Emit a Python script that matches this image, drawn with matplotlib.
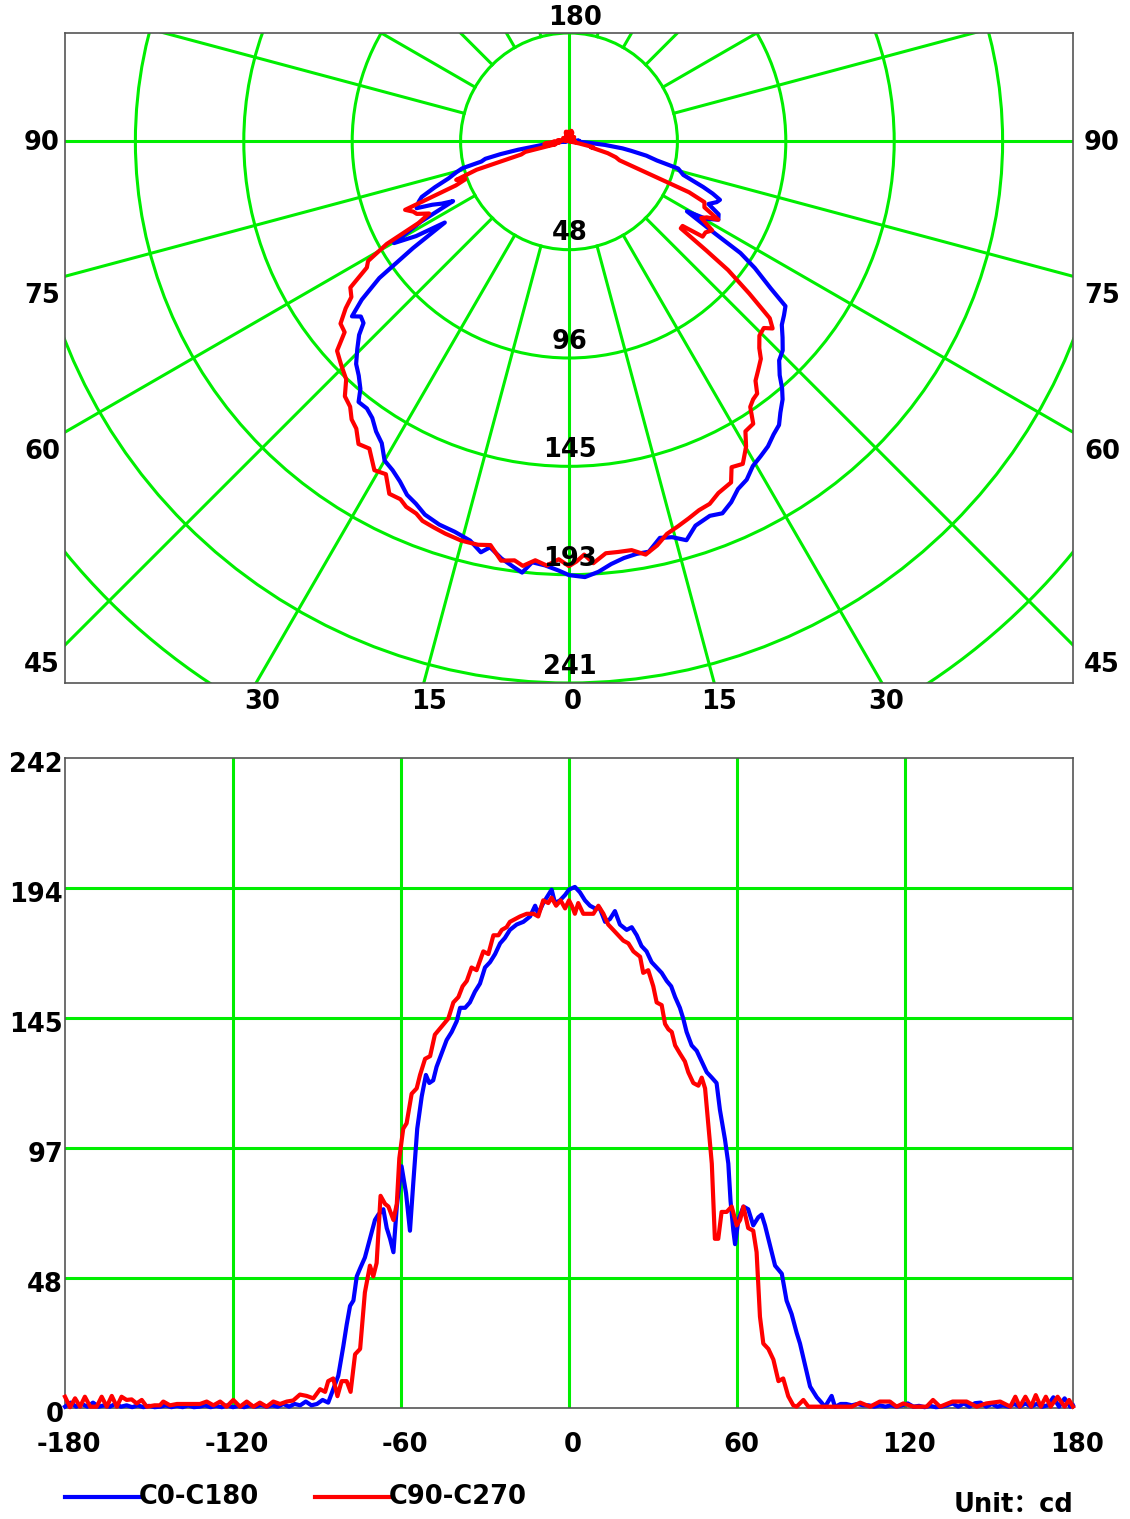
import numpy as np
import matplotlib
matplotlib.use('Agg')
import matplotlib.pyplot as plt
from matplotlib.patches import Circle

# --- Datos: intensidad (cd) frente a angulo gamma (grados) ---
c0_angles = [-180, -178, -176, -174, -172, -170, -168, -166, -164, -162, -160, -158, -156, -154, -152,
             -150, -148, -146, -144, -142, -140, -138, -136, -134, -132, -130, -128, -126, -124, -122,
             -120, -118, -116, -114, -112, -110, -108, -106, -104, -102, -100, -98, -96, -94, -92,
             -90, -88, -86, -84.2, -82.4, -80.6, -79.4, -78.2, -77, -75.8, -74.6, -72.9, -71.1, -69.3,
             -68.1, -66.3, -65.1, -63.9, -62.7, -61.5, -59.8, -58.2, -56.8, -55.6, -54.2, -52.6, -51.1,
             -49.9, -48.5, -47.3, -45.5, -43.7, -41.9, -40.1, -38.9, -37.1, -35.4, -33.6, -31.8, -30,
             -28.2, -26.4, -24.6, -22.9, -21.1, -18.7, -16.3, -13.9, -12.1, -11, -9.2, -7.4, -6.2, -5,
             -3.2, -1.4, 0, 2.1, 3.9, 5.7, 7.5, 9.3, 11, 12.9, 14.6, 16.4, 18.2, 20.6, 22.4, 24.2, 25.9,
             27.7, 29.5, 31.3, 33.1, 34.9, 36.5, 37.9, 39.6, 40.8, 42, 43.8, 45.6, 47.4, 49.2, 51, 52.7,
             53.9, 55.7, 56.9, 57.7, 58.7, 59.3, 60.5, 62.3, 64, 65.8, 67.6, 68.8, 70, 71.2, 73.6, 76,
             77.7, 79.5, 81.3, 82.5, 84.3, 86.1, 88.5, 90.2, 91.4, 93.8, 95, 97, 99, 101, 103, 105, 107,
             109, 111, 113, 115, 117, 119, 121, 123, 125, 127, 129, 131, 133, 135, 137, 139, 141, 143,
             145, 147, 149, 151, 153, 155, 157, 159, 161, 163, 165, 167, 169, 171, 173, 175, 177, 179, 180]
c0_cd = [0.5, 2.0, 0.5, 1.5, 0.5, 2.0, 0.5, 1.0, 0.5, 1.5, 0.5, 1.0, 0.3, 1.0, 0.3,
         0.8, 0.3, 0.5, 1.0, 0.3, 0.8, 0.3, 1.0, 0.3, 0.5, 1.0, 0.3, 0.8, 0.3, 1.0,
         0.3, 0.8, 0.3, 1.0, 0.5, 1.2, 0.5, 1.0, 0.5, 1.5, 0.5, 1.5, 1.0, 2.4, 1.0,
         1.5, 3.0, 2.0, 7, 12, 23, 31, 38, 40, 49, 52, 56, 63, 70,
         72, 74, 67, 63, 58, 75, 90, 80, 66, 84, 104, 116, 124,
         121, 122, 127, 132, 137, 140, 144, 149, 149, 151, 155, 158, 164,
         166, 169, 173, 175, 178, 180, 181, 183, 187, 184, 188, 191, 193, 188,
         189, 191, 193, 194, 192, 189, 187, 186, 186, 181, 182, 185, 180, 178, 179, 176, 172,
         170, 166, 164, 162, 159, 157, 153, 149, 145, 140, 135, 133, 129, 125, 123, 121,
         111, 100, 91, 77, 66, 61, 70, 75, 74, 68, 71, 72, 68, 63, 53, 50,
         40, 35, 28, 24, 16, 8, 4, 2, 0.4, 4.5, 0.4, 1.5, 1.5, 1.0, 1.5, 1.0, 1.0,
         0.5, 1.0, 0.5, 1.0, 0.5, 1.0, 1.7, 0.5, 0.8, 0.3, 0.8, 0.3, 0.5, 1.0, 1.7, 0.5, 1.7, 0.5,
         1.8, 2.0, 0.5, 1.5, 0.5, 1.0, 0.5, 1.5, 0.5, 1.7, 0.5, 1.5, 0.5, 1.0, 4.0, 0.5, 3.6, 0.5, 1.0]

c90_angles = [-180, -178.2, -176.4, -174.6, -172.9, -171, -168.7, -166.9, -165.1, -163.3, -161.5,
              -159.8, -158, -156.2, -154.4, -152.6, -150.8, -148, -146.1, -144.9, -142.5, -140, -137,
              -134, -131.8, -129.4, -127, -124.6, -122.3, -119.9, -117.5, -115.1, -112.7, -110.4, -108,
              -105.6, -103.2, -100.8, -98.5, -96.1, -93.7, -91.3, -88.9, -87.1, -86, -84.2, -82.7,
              -81.2, -79.4, -78, -76.4, -74.6, -72.9, -71.1, -69.9, -68.7, -67.3, -65.7, -64.5, -62.7,
              -61.5, -60.6, -59.2, -58, -56.2, -54.4, -53.2, -51.4, -49.6, -47.9, -45.5, -43.1, -41.3,
              -39.5, -38, -36.5, -34.8, -33, -30.6, -28.8, -27, -25.2, -24, -22.3, -21.1, -19.3, -17.5,
              -15.1, -12.7, -11, -9.2, -7.4, -6.2, -4.6, -3, -1.4, 0, 1, 2.1, 3.3, 5.1, 6.8, 8.7, 10.5,
              12.3, 14, 15.8, 17.6, 19.4, 21.2, 23, 25.4, 26.5, 28.3, 30.1, 31.3, 33.1, 34.3, 35.5, 36.7,
              37.9, 39.6, 41.4, 42.6, 44.4, 46.2, 47.4, 48.6, 49.8, 51, 51.5, 52.1, 53.3, 54.5, 56.3,
              58.1, 59.9, 61.1, 62.3, 64, 65.8, 67, 68.2, 69.4, 71.2, 73, 74.8, 76.5, 78.3, 80.1, 81.3,
              83.7, 85.5, 88, 90, 92, 95, 98, 101, 104, 107.5, 111, 114.6, 117, 119.4, 123, 127.7, 130,
              132.5, 137, 142, 145.6, 149, 154, 157.6, 159.4, 161, 163, 165, 166.7, 168.5, 170.3, 172,
              174.5, 177, 178.6, 180]
c90_cd = [4.2, 0.3, 3.6, 0.5, 4.2, 0.5, 0.5, 4.2, 0.5, 4.5, 0.5,
          4.2, 3.0, 3.2, 1.7, 3.0, 0.5, 1.0, 1.0, 2.4, 1.0, 1.5, 1.5,
          1.5, 1.5, 2.4, 1.0, 2.4, 0.5, 3.0, 0.5, 2.4, 0.5, 2.0, 0.5,
          2.4, 1.5, 2.4, 2.8, 5.0, 4.5, 3.6, 7, 6, 10, 11, 4.4,
          10, 10, 6, 20, 22, 43, 53, 49, 54, 79, 76, 75, 70,
          76, 93, 104, 106, 117, 119, 124, 130, 131, 139, 142, 145, 151,
          153, 157, 159, 164, 163, 170, 169, 176, 176, 178, 179, 181, 182, 183,
          184, 184, 183, 189, 188, 190, 187, 189, 186, 189, 187, 184, 188, 184, 184, 184, 187,
          184, 180, 178, 176, 174, 173, 170, 168, 162, 163, 157, 151, 150, 143, 141, 140,
          135, 132, 129, 125, 121, 120, 123, 119, 105, 91, 78, 63, 63, 73, 73,
          75, 68, 70, 75, 67, 66, 58, 34, 24, 22, 18, 10, 11, 4.4, 1.0, 0.5,
          3.0, 0.5, 0.5, 0.5, 0.5, 0.5, 0.5, 0.5, 2.0, 0.5, 2.4, 2.4, 0.5, 1.7, 0.5, 0.5, 3.0,
          0.5, 2.4, 2.4, 0.5, 1.7, 2.4, 0.5, 4.2, 0.5, 4.2, 0.5, 4.8, 0.5, 4.2, 0.5,
          4.2, 0.5, 3.0, 0.5]

series_names = ['C0-C180', 'C90-C270']
series_colors = ['#0000ff', '#ff0000']

# escalas
polar_rings = [48, 96, 145, 193, 241]
ring_step = 48.2
cart_yticks = [0, 48, 97, 145, 194, 242]
cart_xticks = [-180, -120, -60, 0, 60, 120, 180]
side_labels = [90, 75, 60, 45]
bottom_labels = [30, 15, 0, 15, 30]

GREEN = '#00ee00'
FRAME = '#555555'
FS = 18.5
plt.rcParams['font.family'] = ['DejaVu Sans', 'Noto Sans CJK SC']

W, H = 1130, 1519
fig = plt.figure(figsize=(W / 100, H / 100), dpi=100)


def box(x0, y0, x1, y1):
    return [x0 / W, 1 - y1 / H, (x1 - x0) / W, (y1 - y0) / H]


def ptext(x, y, s, **kw):
    fig.text(x / W, 1 - y / H, s, fontsize=FS, fontweight='bold', ha=kw.pop('ha', 'center'),
             va='center', **kw)


# ---------------- grafico polar ----------------
ax1 = fig.add_axes(box(65, 33, 1073, 683))
ax1.set_xlim(-224.1, 224.1)
ax1.set_ylim(-241, 48.2)
ax1.set_xticks([])
ax1.set_yticks([])
for sp in ax1.spines.values():
    sp.set_color(FRAME)
    sp.set_linewidth(1.2)

for k in range(1, 9):
    ax1.add_patch(Circle((0, 0), k * ring_step, fill=False, ec=GREEN, lw=2.2, zorder=1))
for a in range(0, 360, 15):
    r0 = 0 if a % 90 == 0 else ring_step
    t = np.radians(a)
    ax1.plot([r0 * np.sin(t), 1000 * np.sin(t)], [-r0 * np.cos(t), -1000 * np.cos(t)],
             color=GREEN, lw=2.2, zorder=1)

for ang, cd, col in [(c0_angles, c0_cd, series_colors[0]), (c90_angles, c90_cd, series_colors[1])]:
    t = np.radians(ang)
    cd = np.array(cd)
    ax1.plot(cd * np.sin(t), -cd * np.cos(t), color=col, lw=3, zorder=3)

cx, cy, scale = 569, 141, 108.4 / ring_step
for i, r in enumerate(polar_rings):
    ptext(cx + 1, cy + (i + 1) * ring_step * scale - 16, str(r), zorder=5)
ptext(575, 18, '180')
for a, y in zip(side_labels, [143, 296, 452, 665]):
    ptext(42, y, str(a))
    ptext(1102, y, str(a))
for a, x in zip(bottom_labels, [262, 429, 573, 719, 886]):
    ptext(x, 702, str(a))

# ---------------- grafico cartesiano ----------------
ax2 = fig.add_axes(box(65, 758, 1073, 1408))
ax2.set_xlim(-180, 180)
ax2.set_ylim(0, 242)
ax2.set_xticks([])
ax2.set_yticks([])
for sp in ax2.spines.values():
    sp.set_color(FRAME)
    sp.set_linewidth(1.2)
for x in cart_xticks[1:-1]:
    ax2.axvline(x, color=GREEN, lw=2.2, zorder=1)
for k in range(1, 5):
    ax2.axhline(242 * k / 5, color=GREEN, lw=2.2, zorder=1)

ax2.plot(c0_angles, c0_cd, color=series_colors[0], lw=3, zorder=3, clip_on=False)
ax2.plot(c90_angles, c90_cd, color=series_colors[1], lw=3, zorder=3, clip_on=False)

for i, v in enumerate(cart_yticks):
    y = 1408 - i * 130 + 7
    if v == 0:
        ptext(55, y, '0')
    else:
        ptext(63, y, str(v), ha='right')
for v in cart_xticks:
    ptext(569 + v * 2.8 + 4, 1445, str(v))

# leyenda
for x0, name, col in [(65, series_names[0], series_colors[0]), (315, series_names[1], series_colors[1])]:
    fig.add_artist(plt.Line2D([x0 / W, (x0 + 75) / W], [1 - 1497 / H] * 2, color=col, lw=3))
    ptext(x0 + 74, 1497, name, ha='left')
ptext(1073, 1505, 'Unit\uff1acd', ha='right')

fig.savefig('out.png', dpi=100)
